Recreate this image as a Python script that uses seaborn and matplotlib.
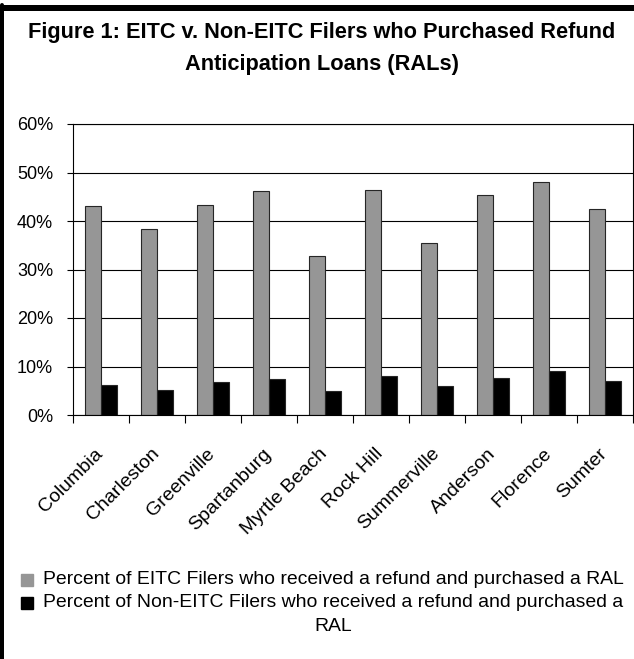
import matplotlib
matplotlib.use("Agg")
import matplotlib.pyplot as plt
import seaborn as sns
import pandas as pd
from matplotlib.patches import Patch
from matplotlib.lines import Line2D
from matplotlib.ticker import FuncFormatter, FixedLocator

cities = ["Columbia", "Charleston", "Greenville", "Spartanburg", "Myrtle Beach",
          "Rock Hill", "Summerville", "Anderson", "Florence", "Sumter"]
eitc = [43.0, 38.3, 43.3, 46.1, 32.7, 46.3, 35.4, 45.4, 48.1, 42.4]
non_eitc = [6.2, 5.1, 6.9, 7.4, 4.9, 8.0, 6.0, 7.6, 9.0, 7.1]
series_names = ["Percent of EITC Filers who received a refund and purchased a RAL",
                "Percent of Non-EITC Filers who received a refund and purchased a\nRAL"]
y_ticks = [0, 10, 20, 30, 40, 50, 60]
title_lines = ["Figure 1: EITC v. Non-EITC Filers who Purchased Refund",
               "Anticipation Loans (RALs)"]

df = pd.DataFrame({
    "city": cities * 2,
    "value": eitc + non_eitc,
    "series": [series_names[0]] * len(cities) + [series_names[1]] * len(cities),
})

sns.set_theme(style="white")
plt.rcParams["font.family"] = ["Liberation Sans", "DejaVu Sans"]

W, H = 634, 659
DPI = 100
fig = plt.figure(figsize=(W / DPI, H / DPI), dpi=DPI)
ax = fig.add_axes([72.7 / W, 1 - 415 / H, 560 / W, (415 - 124) / H])

colors = ["#969696", "#000000"]
sns.barplot(data=df, x="city", y="value", hue="series", palette=colors,
            width=0.57, gap=0, saturation=1, edgecolor="#262626", linewidth=0.8,
            legend=False, ax=ax)

ax.set_ylim(0, 60)
ax.set_xlim(-0.5, len(cities) - 0.5)
ax.yaxis.set_major_locator(FixedLocator(y_ticks))
ax.yaxis.set_major_formatter(FuncFormatter(lambda v, p: f"{v:.0f}%"))
ax.grid(axis="y", color="black", linewidth=0.8)
ax.set_axisbelow(True)
for s in ax.spines.values():
    s.set_color("black")
    s.set_linewidth(0.8)
    s.set_visible(True)
ax.set_xlabel("")
ax.set_ylabel("")

ax.tick_params(axis="y", which="major", left=True, length=4.1, width=0.8, color="black",
               pad=10, labelsize=13, labelcolor="black")
ax.set_xticks(range(len(cities)))
ax.set_xticklabels(cities)
ax.xaxis.set_minor_locator(FixedLocator([i - 0.5 for i in range(len(cities) + 1)]))
ax.tick_params(axis="x", which="major", bottom=True, length=0, pad=26, labelsize=13,
               labelcolor="black")
ax.tick_params(axis="x", which="minor", bottom=True, length=5.8, width=0.8, color="black")
for lab in ax.get_xticklabels():
    lab.set_rotation(45)
    lab.set_ha("right")
    lab.set_va("center")
    lab.set_rotation_mode("anchor")

t1 = fig.text(322 / W, 1 - 38 / H, title_lines[0], ha="center", va="baseline",
              fontsize=15, fontweight="bold", color="black")
t2 = fig.text(322 / W, 1 - 70 / H, title_lines[1], ha="center", va="baseline",
              fontsize=15, fontweight="bold", color="black")

fig.canvas.draw()
r = fig.canvas.get_renderer()

# fit text sizes to the widths measured on the reference
def fit(txt, target):
    w = txt.get_window_extent(r).width
    txt.set_fontsize(txt.get_fontsize() * target / w)

fit(t1, 588)
t2.set_fontsize(t1.get_fontsize())
ylab = [l for l in ax.get_yticklabels() if l.get_text() == "50%"][0]
ysize = 13 * 36 / ylab.get_window_extent(r).width
ax.tick_params(axis="y", labelsize=ysize)
tmp = fig.text(0, 0, "Columbia", fontsize=13)
xsize = 13 * 82 / tmp.get_window_extent(r).width
tmp.remove()
ax.tick_params(axis="x", labelsize=xsize)

tmp = fig.text(0, 0, series_names[0], fontsize=13)
lsize = 13 * 580 / tmp.get_window_extent(r).width
tmp.remove()

# line pitch of the wrapped second label: match the reference (~27 px)
tmp1 = fig.text(0, 0, "RAL", fontsize=lsize, linespacing=1.0)
tmp2 = fig.text(0, 0, "RAL\nRAL", fontsize=lsize, linespacing=1.0)
pitch1 = tmp2.get_window_extent(r).height - tmp1.get_window_extent(r).height
tmp1.remove()
tmp2.remove()
lspacing = 27.0 / pitch1

fs_px = lsize * DPI / 72
handles = [Patch(facecolor=colors[0], edgecolor=colors[0]),
           Patch(facecolor=colors[1], edgecolor=colors[1])]
leg = ax.legend(handles=handles, labels=series_names, loc="upper left",
                bbox_to_anchor=(21 / W, 1 - 571 / H), bbox_transform=fig.transFigure,
                frameon=False, fontsize=lsize, handlelength=12 / fs_px,
                handleheight=11 / fs_px, handletextpad=10 / fs_px,
                labelspacing=0.3, borderpad=0, borderaxespad=0)
for t in leg.get_texts():
    t.set_color("black")
    t.set_linespacing(lspacing)
leg.get_texts()[1].set_multialignment("center")

# keep each legend square beside the first line of its label
fig.canvas.draw()
line_h = leg.get_texts()[0].get_window_extent(r).height
for h, t in zip(leg.legend_handles, leg.get_texts()):
    tb = t.get_window_extent(r)
    hb = h.get_window_extent(r)
    target = tb.y1 - line_h * 0.55
    delta = target - (hb.y0 + hb.y1) / 2
    h.set_y(h.get_y() + delta * 72 / DPI)

# outer frame of the figure (top and left edges visible)
fig.add_artist(Line2D([2 / W, 2 / W], [0, 1 - 5 / H], color="black", lw=4 * 72 / DPI,
                      transform=fig.transFigure))
fig.add_artist(Line2D([0, 1], [1 - 8 / H, 1 - 8 / H], color="black", lw=6 * 72 / DPI,
                      transform=fig.transFigure, solid_capstyle="butt"))

fig.savefig("out.png", dpi=DPI)
